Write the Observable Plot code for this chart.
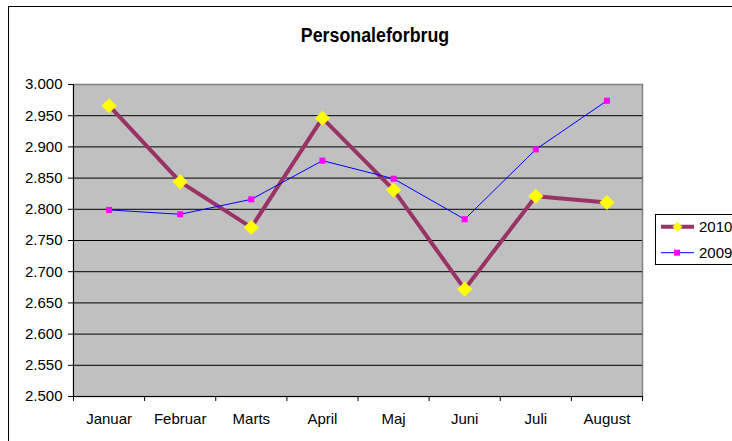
<!DOCTYPE html>
<html><head><meta charset="utf-8">
<script src="https://cdn.jsdelivr.net/npm/d3@7"></script>
<script src="https://cdn.jsdelivr.net/npm/@observablehq/plot@0.6"></script>
<style>
html,body{margin:0;padding:0;background:#fff;overflow:hidden;width:732px;height:441px;}
#wrap{position:relative;width:732px;height:441px;font-family:"Liberation Sans",Arial,sans-serif;color:#000;overflow:hidden;}
#border{position:absolute;left:8px;top:6px;width:900px;height:600px;border:1px solid #000;box-sizing:border-box;}
#title{position:absolute;left:375px;top:25px;transform:translateX(-50%) scaleX(0.89);font-weight:bold;font-size:20px;line-height:20px;white-space:nowrap;}
#chart{position:absolute;left:0;top:0;}
#legend{position:absolute;left:655px;top:214px;}
</style>
</head><body>
<div id="wrap">
  <div id="border"></div>
  <div id="title">Personaleforbrug</div>
  <div id="chart"></div>
  <svg id="legend" width="80" height="52"></svg>
</div>
<script>
const months = ["Januar","Februar","Marts","April","Maj","Juni","Juli","August"];
const values2010 = [2966, 2844, 2771, 2946, 2831, 2672, 2821, 2811];
const values2009 = [2799, 2792, 2816, 2878, 2849, 2784, 2896, 2974];
const yTicks = [2500, 2550, 2600, 2650, 2700, 2750, 2800, 2850, 2900, 2950, 3000];
const seriesNames = ["2010", "2009"];

const locale = d3.formatLocale({decimal: ",", thousands: ".", grouping: [3], currency: ["", ""]});
const fmt = locale.format(",d");

const rows2010 = months.map((m, i) => ({pos: i + 0.5, month: m, value: values2010[i]}));
const rows2009 = months.map((m, i) => ({pos: i + 0.5, month: m, value: values2009[i]}));
const boundaries = d3.range(0, months.length + 1);
const centers = months.map((m, i) => i + 0.5);

const plot = Plot.plot({
  width: 732,
  height: 441,
  marginLeft: 73,
  marginRight: 90,
  marginTop: 84,
  marginBottom: 45,
  style: {fontFamily: "Liberation Sans, Arial, sans-serif", fontSize: "15px", color: "#000", background: "transparent", overflow: "visible"},
  x: {domain: [0, months.length]},
  y: {domain: [yTicks[0], yTicks[yTicks.length - 1]]},
  marks: [
    Plot.frame({fill: "#C0C0C0", stroke: "#808080", strokeWidth: 1.5}),
    Plot.ruleY(yTicks.slice(1, -1), {stroke: "#000", strokeWidth: 1}),
    Plot.ruleY([yTicks[0]], {stroke: "#000", strokeWidth: 1}),
    Plot.ruleX([0], {stroke: "#000", strokeWidth: 1}),
    Plot.axisY({ticks: yTicks, tickSize: 5, tickPadding: 6, tickFormat: fmt, label: null, fontSize: 15}),
    Plot.axisX({ticks: boundaries, tickSize: 5, tickFormat: () => "", label: null}),
    Plot.axisX({ticks: centers, tickSize: 0, tickPadding: 17, tickFormat: d => months[Math.floor(d)], label: null, fontSize: 15}),
    Plot.line(rows2010, {x: "pos", y: "value", stroke: "#993366", strokeWidth: 4, strokeLinejoin: "round"}),
    Plot.dot(rows2010, {x: "pos", y: "value", symbol: "diamond2", r: 6.8, fill: "#FFFF00", stroke: "none"}),
    Plot.line(rows2009, {x: "pos", y: "value", stroke: "#0000FF", strokeWidth: 1}),
    Plot.dot(rows2009, {x: "pos", y: "value", symbol: "square", r: 3.4, fill: "#FF00FF", stroke: "none"})
  ]
});
document.getElementById("chart").appendChild(plot);

// Legend
const lg = d3.select("#legend");
lg.append("rect").attr("x", 0.5).attr("y", 0.5).attr("width", 100).attr("height", 50)
  .attr("fill", "#fff").attr("stroke", "#000").attr("stroke-width", 1);
const rowsY = [12.7, 38.7];
// 2010
lg.append("line").attr("x1", 6).attr("x2", 39).attr("y1", rowsY[0]).attr("y2", rowsY[0])
  .attr("stroke", "#993366").attr("stroke-width", 4);
lg.append("path").attr("d", d3.symbol(d3.symbolDiamond2, 64)()).attr("transform", `translate(22.5,${rowsY[0]})`)
  .attr("fill", "#FFFF00");
// 2009
lg.append("line").attr("x1", 6).attr("x2", 39).attr("y1", rowsY[1]).attr("y2", rowsY[1])
  .attr("stroke", "#0000FF").attr("stroke-width", 1);
lg.append("rect").attr("x", 19).attr("y", rowsY[1] - 3).attr("width", 6).attr("height", 6).attr("fill", "#FF00FF");
seriesNames.forEach((n, i) => {
  lg.append("text").attr("x", 44).attr("y", rowsY[i]).attr("dy", "0.36em")
    .attr("font-family", "Liberation Sans, Arial, sans-serif").attr("font-size", 15).attr("fill", "#000").text(n);
});
</script>
</body></html>
